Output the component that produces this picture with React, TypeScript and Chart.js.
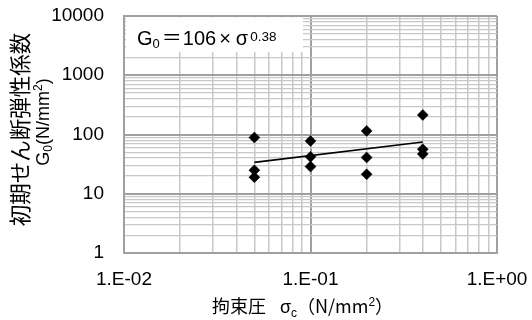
import React, { useEffect, useRef } from 'react';
import { Chart, registerables } from 'chart.js';

Chart.register(...registerables);

// ---- data ----
const sigmaValues = [0.05, 0.05, 0.05, 0.1, 0.1, 0.1, 0.2, 0.2, 0.2, 0.4, 0.4, 0.4];
const g0Values = [89, 25, 19, 78, 42, 28.7, 115, 41, 21.3, 214, 56.5, 47];
const trendX = [0.05, 0.4];
const trendY = [33.9, 74.8];

const xMajorTicks = [0.01, 0.1, 1];
const xTickLabels = ['1.E-02', '1.E-01', '1.E+00'];
const yMajorTicks = [1, 10, 100, 1000, 10000];
const yTickLabels = ['1', '10', '100', '1000', '10000'];

const equationParts = ['G', '0', '＝', '106', '×', 'σ', '0.38'];
const xTitleParts = ['拘束圧', 'σ', 'c', '（N/mm', '2', '）'];
const yTitleLine1 = '初期せん断弾性係数';
const yTitleLine2Parts = ['G', '0', '(N/mm', '2', ')'];

const NUM = '"Liberation Sans", Arial, sans-serif';
const JP = '"Noto Sans CJK JP", sans-serif';

function minorGrid(majors: number[]) {
  const out: number[] = [];
  for (let i = 0; i < majors.length - 1; i++) {
    for (let k = 1; k <= 9; k++) out.push(majors[i] * k);
  }
  out.push(majors[majors.length - 1]);
  return out;
}

function isMajor(v: number | undefined) {
  if (v === undefined || v <= 0) return false;
  const l = Math.log10(v);
  return Math.abs(l - Math.round(l)) < 1e-6;
}

function labelFor(v: number, majors: number[], labels: string[]) {
  const i = majors.findIndex((m) => Math.abs(m - v) < m * 1e-6);
  return i >= 0 ? labels[i] : '';
}

type Seg = { t: string; font: string; dy: number; gap?: number };

function drawRich(ctx: CanvasRenderingContext2D, segs: Seg[], x: number, y: number, align: 'left' | 'center') {
  let total = 0;
  const widths = segs.map((s) => {
    ctx.font = s.font;
    const w = ctx.measureText(s.t).width + (s.gap || 0);
    total += w;
    return w;
  });
  let cx = align === 'center' ? x - total / 2 : x;
  ctx.textAlign = 'left';
  segs.forEach((s, i) => {
    ctx.font = s.font;
    ctx.fillText(s.t, cx, y + s.dy);
    cx += widths[i];
  });
}

const textPlugin = {
  id: 'textPlugin',
  afterDraw(chart: any) {
    const { ctx, chartArea: a } = chart;
    ctx.save();
    // equation box
    ctx.fillStyle = '#ffffff';
    ctx.fillRect(a.left + 2, a.top + 1.5, 177, 34.5);
    ctx.fillStyle = '#000000';
    ctx.textBaseline = 'alphabetic';
    const [g, sub0, eq, c106, times, sig, pow] = equationParts;
    drawRich(
      ctx,
      [
        { t: g, font: `20px ${NUM}`, dy: 0 },
        { t: sub0, font: `13px ${NUM}`, dy: 3, gap: 2 },
        { t: eq, font: `20px ${JP}`, dy: 0, gap: 1 },
        { t: c106, font: `20px ${NUM}`, dy: 0, gap: 3 },
        { t: times, font: `20px ${NUM}`, dy: 0, gap: 5 },
        { t: sig, font: `20px ${NUM}`, dy: 0, gap: 2 },
        { t: pow, font: `13.5px ${NUM}`, dy: -4 },
      ],
      a.left + 13,
      a.top + 28.5,
      'left'
    );

    // x title
    const [xt0, xt1, xt2, xt3, xt4, xt5] = xTitleParts;
    drawRich(
      ctx,
      [
        { t: xt0, font: `18px ${JP}`, dy: 0, gap: 14 },
        { t: xt1, font: `18px ${NUM}`, dy: 0 },
        { t: xt2, font: `12px ${NUM}`, dy: 4 },
        { t: xt3, font: `18px ${JP}`, dy: 0 },
        { t: xt4, font: `12px ${NUM}`, dy: -7 },
        { t: xt5, font: `18px ${JP}`, dy: 0 },
      ],
      (a.left + a.right) / 2 - 8,
      312.5,
      'center'
    );

    // y title (rotated)
    const midY = (a.top + a.bottom) / 2;
    ctx.save();
    ctx.translate(20, midY - 5);
    ctx.rotate(-Math.PI / 2);
    ctx.textBaseline = 'middle';
    ctx.textAlign = 'center';
    ctx.font = `21.5px ${JP}`;
    ctx.fillText(yTitleLine1, 0, 0);
    ctx.restore();

    ctx.save();
    ctx.translate(49, midY - 12.5);
    ctx.rotate(-Math.PI / 2);
    ctx.textBaseline = 'alphabetic';
    const [yg, y0, y1, y2, y3] = yTitleLine2Parts;
    drawRich(
      ctx,
      [
        { t: yg, font: `18px ${NUM}`, dy: 0 },
        { t: y0, font: `12px ${NUM}`, dy: 3 },
        { t: y1, font: `18px ${NUM}`, dy: 0 },
        { t: y2, font: `12px ${NUM}`, dy: -7 },
        { t: y3, font: `18px ${NUM}`, dy: 0 },
      ],
      0,
      0,
      'center'
    );
    ctx.restore();
    ctx.restore();
  },
};

export default function App() {
  const ref = useRef<HTMLCanvasElement | null>(null);

  useEffect(() => {
    document.body.style.margin = '0';
    const canvas = ref.current;
    if (!canvas) return;
    const xGrid = minorGrid(xMajorTicks);
    const yGrid = minorGrid(yMajorTicks);
    const majorColor = '#a0a0a0';
    const minorColor = '#c8c8c8';

    const chart = new Chart(canvas, {
      type: 'scatter',
      data: {
        datasets: [
          {
            label: 'G0',
            data: sigmaValues.map((x, i) => ({ x, y: g0Values[i] })),
            pointStyle: 'rectRot',
            pointRadius: 5.5,
            pointBackgroundColor: '#000',
            pointBorderColor: '#000',
            pointBorderWidth: 0.5,
            showLine: false,
          },
          {
            label: 'trend',
            data: trendX.map((x, i) => ({ x, y: trendY[i] })),
            showLine: true,
            borderColor: '#000',
            borderWidth: 1.6,
            pointRadius: 0,
            fill: false,
          },
        ],
      },
      options: {
        responsive: false,
        animation: false,
        devicePixelRatio: 1,
        layout: { padding: 0 },
        plugins: { legend: { display: false }, tooltip: { enabled: false } },
        scales: {
          x: {
            type: 'logarithmic',
            min: 0.01,
            max: 1,
            afterBuildTicks: (s: any) => {
              s.ticks = xGrid.map((v) => ({ value: v, major: isMajor(v) }));
            },
            afterFit: (s: any) => {
              s.height = 67;
              s.paddingLeft = 0;
              s.paddingRight = 35;
            },
            ticks: {
              autoSkip: false,
              maxRotation: 0,
              minRotation: 0,
              padding: 15,
              color: '#000',
              font: { family: NUM, size: 19 },
              callback: (v: any) => labelFor(Number(v), xMajorTicks, xTickLabels),
            },
            grid: {
              drawTicks: false,
              color: (c: any) => (isMajor(c.tick?.value) ? majorColor : minorColor),
              lineWidth: (c: any) => (isMajor(c.tick?.value) ? 2 : 1.5),
            },
            border: { display: true, color: majorColor, width: 2 },
          },
          y: {
            type: 'logarithmic',
            min: 1,
            max: 10000,
            afterBuildTicks: (s: any) => {
              s.ticks = yGrid.map((v) => ({ value: v, major: isMajor(v) }));
            },
            afterFit: (s: any) => {
              s.width = 124;
              s.paddingTop = 16;
              s.paddingBottom = 0;
            },
            ticks: {
              autoSkip: false,
              padding: 20,
              color: '#000',
              font: { family: NUM, size: 19 },
              callback: (v: any) => labelFor(Number(v), yMajorTicks, yTickLabels),
            },
            grid: {
              drawTicks: false,
              color: (c: any) => (isMajor(c.tick?.value) ? majorColor : minorColor),
              lineWidth: (c: any) => (isMajor(c.tick?.value) ? 2 : 1.2),
            },
            border: { display: true, color: majorColor, width: 2 },
          },
        },
      },
      plugins: [textPlugin],
    } as any);

    return () => chart.destroy();
  }, []);

  return (
    <div style={{ width: 532, height: 320 }}>
      <canvas ref={ref} width={532} height={320} style={{ display: 'block' }} />
    </div>
  );
}
